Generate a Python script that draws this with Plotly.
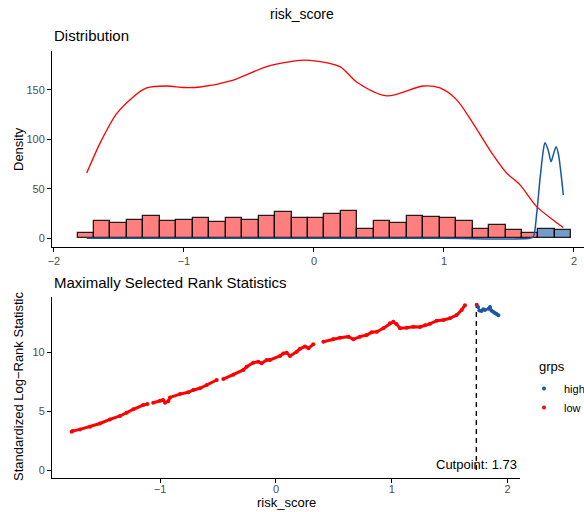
import plotly.graph_objects as go

# ---- histogram of risk_score (30 bins) ----
BIN_START = -1.755          # centre of first bin
BIN_WIDTH = 0.1266
bin_counts = [5, 17, 15, 19, 23, 18, 19, 21, 16, 21, 19, 23, 27, 21, 21,
              25, 28, 9, 17, 15, 23, 22, 21, 18, 9, 13, 8, 5, 9, 8]
bin_group = ["low"] * 28 + ["high"] * 2

# ---- scaled density curves per group ----
dens_low_x = [-1.748, -1.646, -1.518, -1.39, -1.287, -1.133, -1.0, -0.877, -0.62,
              -0.364, -0.108, -0.03, 0.2, 0.328, 0.559, 0.841, 0.969, 1.098,
              1.225, 1.354, 1.482, 1.585, 1.713, 1.867, 1.918]
dens_low_y = [66, 96, 126, 143, 152, 154, 152.5, 153, 160, 173.6, 180, 180, 173.6,
              158, 144, 154, 152, 140, 116, 89, 66, 54, 32, 15.8, 11]
dens_high_x = [-1.748, 0.0, 1.0, 1.66, 1.687, 1.713, 1.738, 1.764, 1.777, 1.802,
               1.823, 1.84, 1.862, 1.879, 1.897, 1.918]
dens_high_y = [0, 0, 0, 0, 1.6, 25, 59, 89, 96.7, 89, 77.5, 84, 92.6, 86, 69, 43.8]

# ---- maximally selected rank statistics ----
stat_low_x = [-1.764, -1.756, -1.693, -1.606, -1.52, -1.434, -1.347, -1.289, -1.232,
              -1.146, -1.11, None, -1.06, -1.002, -0.975, -0.958, -0.93, -0.915,
              -0.829, -0.757, -0.714, -0.656, -0.598, -0.512, None, -0.455, -0.368,
              -0.282, -0.253, -0.196, -0.153, -0.124, -0.08, -0.052, 0.035, 0.063,
              0.092, 0.121, 0.179, 0.207, 0.25, 0.28, 0.322, None, 0.409, 0.495,
              0.553, 0.625, 0.668, 0.725, 0.783, 0.826, 0.87, 0.927, 0.984, 1.013,
              1.04, 1.071, 1.128, 1.186, 1.243, 1.287, 1.33, 1.387, 1.445, 1.502,
              1.56, 1.603, 1.632, None, 1.733]
stat_low_y = [3.25, 3.31, 3.45, 3.68, 3.95, 4.3, 4.59, 4.87, 5.16,
              5.52, 5.6, None, 5.72, 5.89, 5.95, 5.72, 5.85, 6.17,
              6.45, 6.6, 6.8, 6.94, 7.22, 7.65, None, 7.73, 8.1,
              8.5, 8.78, 9.12, 9.2, 9.06, 9.35, 9.35, 9.69, 9.9,
              9.97, 9.69, 10.05, 10.3, 10.5, 10.35, 10.68, None, 10.9, 11.13,
              11.24, 11.33, 11.1, 11.33, 11.47, 11.7, 11.75, 12.04, 12.46, 12.6,
              12.4, 12.04, 12.09, 12.18, 12.15, 12.3, 12.42, 12.69, 12.74, 12.89,
              13.17, 13.6, 14.0, None, 14.05]
stat_high_x = [1.745, 1.756, 1.775, 1.79, 1.805, 1.835, 1.848, 1.86, 1.875, 1.89,
               1.905, 1.92]
stat_high_y = [13.85, 13.55, 13.5, 13.65, 13.6, 13.7, 13.85, 13.55, 13.45, 13.35,
               13.25, 13.15]

CUTPOINT = 1.73
CUT_STAT = 14.05

RED = "#FF0000"
BLUE = "#1A56A6"
FONT = "Liberation Sans, Arial, sans-serif"
TICK_GREY = "#4D4D4D"

W, H = 584, 512

fig = go.Figure()

# histogram bars
centers = [BIN_START + i * BIN_WIDTH for i in range(len(bin_counts))]
fills = ["rgba(255,0,0,0.5)" if g == "low" else "rgba(26,86,166,0.6)" for g in bin_group]
fig.add_trace(go.Bar(
    x=centers, y=bin_counts, width=BIN_WIDTH,
    marker=dict(color=fills, line=dict(color="rgba(0,0,0,0.85)", width=1.3)),
    xaxis="x", yaxis="y", showlegend=False, hoverinfo="skip"))

# density lines
fig.add_trace(go.Scatter(x=dens_high_x, y=dens_high_y, mode="lines",
                         line=dict(color=BLUE, width=1.5, shape="spline", smoothing=0.8),
                         xaxis="x", yaxis="y", showlegend=False))
fig.add_trace(go.Scatter(x=dens_low_x, y=dens_low_y, mode="lines",
                         line=dict(color=RED, width=1.3, shape="spline", smoothing=0.8),
                         xaxis="x", yaxis="y", showlegend=False))

# cutpoint marker line
fig.add_trace(go.Scatter(x=[CUTPOINT, CUTPOINT], y=[0, CUT_STAT], mode="lines",
                         line=dict(color="black", width=1.4, dash="5px,4px"),
                         xaxis="x2", yaxis="y2", showlegend=False))

# rank statistic points
fig.add_trace(go.Scatter(x=stat_low_x, y=stat_low_y, mode="lines+markers",
                         line=dict(color=RED, width=3), marker=dict(color=RED, size=4),
                         connectgaps=False, xaxis="x2", yaxis="y2", showlegend=False))
fig.add_trace(go.Scatter(x=stat_high_x, y=stat_high_y, mode="lines+markers",
                         line=dict(color=BLUE, width=2), marker=dict(color=BLUE, size=4),
                         xaxis="x2", yaxis="y2", showlegend=False))

# legend entries
fig.add_trace(go.Scatter(x=[None], y=[None], mode="markers", name="high",
                         marker=dict(color=BLUE, size=4), xaxis="x2", yaxis="y2"))
fig.add_trace(go.Scatter(x=[None], y=[None], mode="markers", name="low",
                         marker=dict(color=RED, size=4), xaxis="x2", yaxis="y2"))

axis_common = dict(showline=True, linecolor="black", linewidth=1.1, ticks="outside",
                   ticklen=4, tickwidth=1.1, tickcolor="black", showgrid=False,
                   zeroline=False, tickfont=dict(family=FONT, size=11, color=TICK_GREY))

fig.update_layout(
    width=W, height=H, margin=dict(l=0, r=0, t=0, b=0, autoexpand=False),
    paper_bgcolor="white", plot_bgcolor="white",
    font=dict(family=FONT, color="black"),
    bargap=0,
    xaxis=dict(domain=[52 / W, 1.0], range=[-2.015, 2.077], anchor="y",
               tickvals=[-2, -1, 0, 1, 2], **axis_common),
    yaxis=dict(domain=[1 - 247 / H, 1 - 51 / H], range=[-8.8, 189.4], anchor="x",
               tickvals=[0, 50, 100, 150], **axis_common),
    xaxis2=dict(domain=[52 / W, 520 / W], range=[-1.934, 2.107], anchor="y2",
                tickvals=[-1, 0, 1, 2], ticklabelstandoff=-3, **axis_common),
    yaxis2=dict(domain=[1 - 478 / H, 1 - 297 / H], range=[-0.68, 14.7], anchor="x2",
                tickvals=[0, 5, 10], **axis_common),
    legend=dict(x=524 / W, y=1 - 374 / H, xanchor="left", yanchor="top",
                font=dict(family=FONT, size=11), bgcolor="rgba(0,0,0,0)",
                tracegroupgap=0, itemwidth=30),
)

annotations = [
    dict(text="risk_score", x=302 / W, y=1 - 14 / H, xref="paper", yref="paper",
         xanchor="center", yanchor="middle", showarrow=False, font=dict(size=14)),
    dict(text="Distribution", x=52 / W, y=1 - 35 / H, xref="paper", yref="paper",
         xanchor="left", yanchor="middle", showarrow=False, font=dict(size=15)),
    dict(text="Maximally Selected Rank Statistics", x=52 / W, y=1 - 282 / H,
         xref="paper", yref="paper", xanchor="left", yanchor="middle",
         showarrow=False, font=dict(size=15)),
    dict(text="Density", x=18 / W, y=1 - 149 / H, xref="paper", yref="paper",
         xanchor="center", yanchor="middle", textangle=-90, showarrow=False,
         font=dict(size=13)),
    dict(text="Standardized Log\u2212Rank Statistic", x=18 / W, y=1 - 387 / H,
         xref="paper", yref="paper", xanchor="center", yanchor="middle",
         textangle=-90, showarrow=False, font=dict(size=13)),
    dict(text="risk_score", x=286 / W, y=1 - 502 / H, xref="paper", yref="paper",
         xanchor="center", yanchor="middle", showarrow=False, font=dict(size=13)),
    dict(text="grps", x=537 / W, y=1 - 366 / H, xref="paper", yref="paper",
         xanchor="left", yanchor="middle", showarrow=False, font=dict(size=13)),
    dict(text=f"Cutpoint: {CUTPOINT:.2f}", x=CUTPOINT, y=0.5, xref="x2", yref="y2",
         xanchor="center", yanchor="middle", showarrow=False, font=dict(size=13)),
]
fig.update_layout(annotations=annotations)

fig.write_html("out.html")
